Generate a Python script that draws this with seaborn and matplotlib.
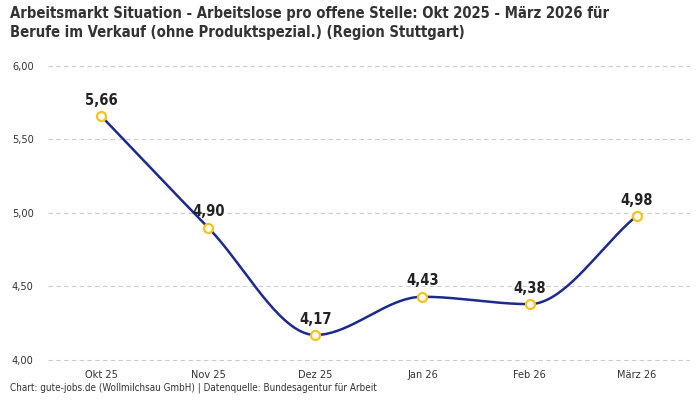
import numpy as np
import pandas as pd
import seaborn as sns
import matplotlib.pyplot as plt
from matplotlib.ticker import FuncFormatter

# Daten: Arbeitslose pro offene Stelle
monate = ["Okt 25", "Nov 25", "Dez 25", "Jan 26", "Feb 26", "März 26"]
werte = [5.66, 4.90, 4.17, 4.43, 4.38, 4.98]
y_ticks = [4.0, 4.5, 5.0, 5.5, 6.0]

df = pd.DataFrame({"monat": monate, "wert": werte, "pos": range(len(monate))})

sns.set_theme(style="white")
plt.rcParams['font.family'] = ['DejaVu Sans']

fig = plt.figure(figsize=(7, 4), dpi=100)
ax = fig.add_axes([0.068, 0.0927, 0.918, 0.7497])


def monotone(x, y, n=40):
    # monotone kubische Interpolation (Fritsch-Carlson) nur fuer die Linie
    x = np.asarray(x, float)
    y = np.asarray(y, float)
    h = np.diff(x)
    d = np.diff(y) / h
    m = np.zeros_like(y)
    m[0], m[-1] = d[0], d[-1]
    for i in range(1, len(y) - 1):
        if d[i - 1] * d[i] <= 0:
            m[i] = 0
        else:
            m[i] = 2 / (1 / d[i - 1] + 1 / d[i])
    xs, ys = [], []
    for i in range(len(h)):
        t = np.linspace(0, 1, n)
        h00 = 2 * t**3 - 3 * t**2 + 1
        h10 = t**3 - 2 * t**2 + t
        h01 = -2 * t**3 + 3 * t**2
        h11 = t**3 - t**2
        xs.append(x[i] + t * h[i])
        ys.append(h00 * y[i] + h10 * h[i] * m[i] + h01 * y[i + 1] + h11 * h[i] * m[i + 1])
    return np.concatenate(xs), np.concatenate(ys)


xs, ys = monotone(df["pos"], df["wert"])
sns.lineplot(x=xs, y=ys, ax=ax, color="#1c2a8e", linewidth=1.8, sort=False)
sns.scatterplot(data=df, x="pos", y="wert", ax=ax, s=42, color="white",
                edgecolor="#f7c21b", linewidth=1.6, zorder=5)

for _, r in df.iterrows():
    ax.annotate(f"{r['wert']:.2f}".replace(".", ","), (r["pos"], r["wert"]),
                xytext=(0, 6), textcoords="offset points", ha="center",
                va="bottom", fontsize=10.5, fontweight="bold", color="#222222",
                fontstretch="condensed")

ax.set_xlim(-0.5, len(monate) - 0.5)
ax.set_ylim(3.98, 6.02)
ax.set_xticks(df["pos"])
ax.set_xticklabels(monate, fontstretch="condensed")
ax.set_yticks(y_ticks)
ax.yaxis.set_major_formatter(FuncFormatter(lambda v, p: f"{v:.2f}".replace(".", ",")))
ax.tick_params(axis="both", labelsize=7.8, colors="#333333", length=0)
ax.tick_params(axis="y", pad=10)
ax.tick_params(axis="x", pad=5)
for t in ax.get_yticklabels():
    t.set_fontstretch("condensed")
ax.set_xlabel("")
ax.set_ylabel("")
ax.grid(axis="y", color="#cccccc", linestyle=(0, (4, 3)), linewidth=0.8)
sns.despine(ax=ax, left=True, bottom=True)

fig.text(0.014, 0.986, "Arbeitsmarkt Situation - Arbeitslose pro offene Stelle: Okt 2025 - März 2026 für\n"
         "Berufe im Verkauf (ohne Produktspezial.) (Region Stuttgart)",
         ha="left", va="top", fontsize=10.6, fontweight="bold", color="#333333",
         linespacing=1.4, fontstretch="condensed")
fig.text(0.014, 0.0175, "Chart: gute-jobs.de (Wollmilchsau GmbH) | Datenquelle: Bundesagentur für Arbeit",
         ha="left", va="bottom", fontsize=7.1, color="#333333", fontstretch="condensed")

fig.savefig("out.png", dpi=100)
